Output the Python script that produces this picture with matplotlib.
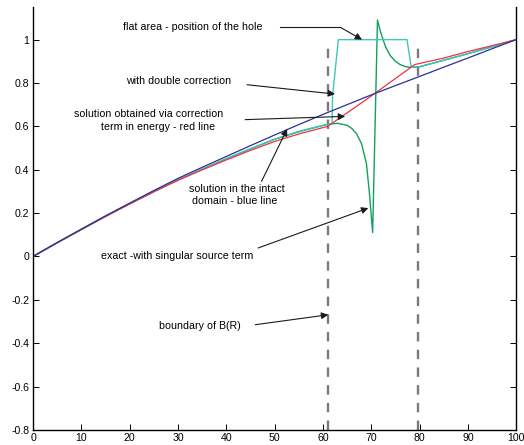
import matplotlib
matplotlib.use("Agg")
import matplotlib.pyplot as plt

plt.rcParams['font.family'] = ['Liberation Sans', 'DejaVu Sans']

# solution in the intact domain (blue)
x_blue = [0, 5, 10, 15, 20, 25, 30, 35, 40, 45, 50, 55, 60, 65, 70, 75, 80, 85, 90, 95, 100]
y_blue = [0, 0.064, 0.126, 0.187, 0.246, 0.304, 0.36, 0.411, 0.461, 0.511, 0.56,
          0.608, 0.655, 0.70, 0.745, 0.788, 0.83, 0.873, 0.915, 0.958, 1.0]

# correction term in energy (red)
x_red = [0, 5, 10, 15, 20, 25, 30, 35, 40, 45, 50, 55, 61, 70, 79, 85, 90, 95, 100]
y_red = [0, 0.063, 0.124, 0.184, 0.242, 0.298, 0.351, 0.399, 0.445, 0.489, 0.53,
         0.565, 0.60, 0.74, 0.885, 0.915, 0.945, 0.972, 1.0]

# exact - singular source term (green)
x_green = [0, 5, 10, 15, 20, 25, 30, 35, 40, 45, 50, 55, 61, 63, 65, 66, 67, 68, 69,
           69.6, 70.3, 71.3, 72, 73, 74, 75, 76, 77, 78, 80, 85, 90, 95, 100]
y_green = [0, 0.063, 0.124, 0.185, 0.243, 0.299, 0.353, 0.402, 0.45, 0.496, 0.54,
           0.575, 0.61, 0.614, 0.605, 0.59, 0.565, 0.52, 0.43, 0.3, 0.11, 1.09, 1.03,
           0.965, 0.925, 0.9, 0.885, 0.876, 0.872, 0.875, 0.905, 0.935, 0.967, 1.0]

# double correction (cyan)
x_cyan = [0, 5, 10, 15, 20, 25, 30, 35, 40, 45, 50, 55, 61, 61.9, 62.0, 63.2, 77.4,
          78.3, 80, 85, 90, 95, 100]
y_cyan = [0, 0.063, 0.124, 0.185, 0.243, 0.3, 0.354, 0.403, 0.451, 0.497, 0.541,
          0.577, 0.61, 0.612, 0.74, 1.0, 1.0, 0.872, 0.875, 0.905, 0.935, 0.967, 1.0]

# boundary of B(R)
x_bound = [61.0, 79.7]

xticks = list(range(0, 101, 10))
yticks = [-0.8, -0.6, -0.4, -0.2, 0, 0.2, 0.4, 0.6, 0.8, 1]
ylabels = ['-0.8', '-0.6', '-0.4', '-0.2', '0', '0.2', '0.4', '0.6', '0.8', '1']

fig = plt.figure(figsize=(5.24, 4.45), dpi=100)
ax = fig.add_axes([0.063, 0.034, 0.922, 0.95])

for xb in x_bound:
    ax.plot([xb, xb], [-0.8, 0.98], color='#7a7a7a', lw=1.7, dashes=(4, 3.5))

ax.plot(x_green, y_green, color='#12a05a', lw=1.0)
ax.plot(x_cyan, y_cyan, color='#3ec6bc', lw=1.0)
ax.plot(x_red, y_red, color='#ee3340', lw=0.9)
ax.plot(x_blue, y_blue, color='#2b2f9c', lw=0.9)

ax.set_xlim(0, 100)
ax.set_ylim(-0.8, 1.15)
ax.set_xticks(xticks)
ax.set_yticks(yticks)
ax.set_yticklabels(ylabels)
ax.spines['top'].set_visible(False)
for s in ['left', 'right', 'bottom']:
    ax.spines[s].set_linewidth(1.0)
ax.tick_params(direction='in', length=4, width=0.7, labelsize=7.6, pad=2.5,
               right=True, top=False)

fs = 7.7
arrow = dict(arrowstyle='-|>', color='#1a1a1a', lw=0.8, mutation_scale=10,
             shrinkA=0, shrinkB=0)

ax.text(33.0, 1.057, 'flat area - position of the hole', fontsize=fs,
        ha='center', va='center')
ax.plot([51.1, 63.6], [1.057, 1.057], color='#1a1a1a', lw=0.8)
ax.annotate('', xy=(68.1, 1.0), xytext=(63.6, 1.057), arrowprops=arrow)

ax.text(30.2, 0.811, 'with double correction', fontsize=fs, ha='center', va='center')
ax.annotate('', xy=(62.5, 0.749), xytext=(44.3, 0.792), arrowprops=arrow)

ax.text(24.0, 0.657, 'solution obtained via correction', fontsize=fs,
        ha='center', va='center')
ax.text(25.9, 0.595, 'term in energy - red line', fontsize=fs,
        ha='center', va='center')
ax.annotate('', xy=(64.6, 0.646), xytext=(43.9, 0.631), arrowprops=arrow)

ax.text(42.1, 0.311, 'solution in the intact', fontsize=fs, ha='center', va='center')
ax.text(41.7, 0.258, 'domain - blue line', fontsize=fs, ha='center', va='center')
ax.annotate('', xy=(52.6, 0.588), xytext=(47.3, 0.346), arrowprops=arrow)

ax.text(29.9, 0.0, 'exact -with singular source term', fontsize=fs,
        ha='center', va='center')
ax.annotate('', xy=(69.4, 0.223), xytext=(46.6, 0.039), arrowprops=arrow)

ax.text(34.6, -0.323, 'boundary of B(R)', fontsize=fs, ha='center', va='center')
ax.annotate('', xy=(61.1, -0.269), xytext=(46.0, -0.315), arrowprops=arrow)

fig.savefig('out.png', dpi=100)
